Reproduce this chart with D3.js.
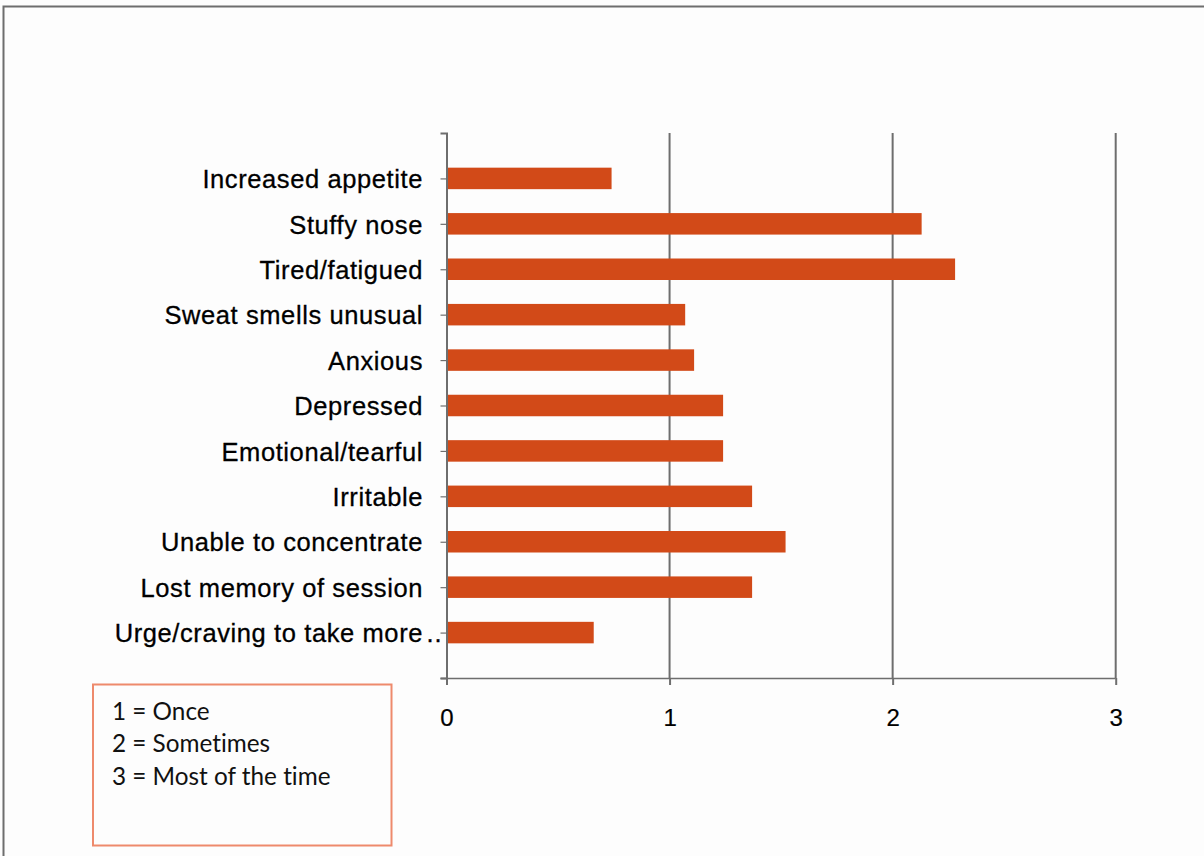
<!DOCTYPE html>
<html>
<head>
<meta charset="utf-8">
<script src="https://cdn.jsdelivr.net/npm/d3@7"></script>
<style>
  html, body { margin: 0; padding: 0; background: #fdfdfd; }
  svg { display: block; }
</style>
</head>
<body>
<svg id="chart" width="1204" height="856"></svg>
<script>
// Symptom categories, top to bottom
const symptoms = [
  "Increased appetite",
  "Stuffy nose",
  "Tired/fatigued",
  "Sweat smells unusual",
  "Anxious",
  "Depressed",
  "Emotional/tearful",
  "Irritable",
  "Unable to concentrate",
  "Lost memory of session",
  "Urge/craving to take more…"
];
// Mean frequency score per symptom
const scores = [0.74, 2.13, 2.28, 1.07, 1.11, 1.24, 1.24, 1.37, 1.52, 1.37, 0.66];
const xTicks = [0, 1, 2, 3];
const keyLines = ["1 = Once", "2 = Sometimes", "3 = Most of the time"];

const svg = d3.select("#chart");
const axisColor = "#6e6e6e";
const barColor = "#d24a18";
const labelFont = "'Liberation Sans', Arial, sans-serif";

// Outer frame (top and left edges visible)
svg.append("path")
  .attr("d", "M3.5,856V6.5H1204")
  .attr("fill", "none")
  .attr("stroke", axisColor)
  .attr("stroke-width", 2);

const plot = { left: 446.5, right: 1115.7, top: 133, bottom: 678 };

const x = d3.scaleLinear().domain([0, 3]).range([plot.left, plot.right]);
const y = d3.scalePoint().domain(symptoms).range([plot.top, plot.bottom]).padding(1);

// Vertical gridlines
svg.append("g")
  .selectAll("line")
  .data(xTicks.filter(d => d > 0))
  .join("line")
  .attr("x1", d => x(d)).attr("x2", d => x(d))
  .attr("y1", plot.top).attr("y2", plot.bottom)
  .attr("stroke", axisColor)
  .attr("stroke-width", 2);

// Bars
const barH = 21.5;
svg.append("g")
  .selectAll("rect")
  .data(symptoms)
  .join("rect")
  .attr("x", x(0) + 1)
  .attr("y", d => y(d) - barH / 2)
  .attr("width", (d, i) => x(scores[i]) - x(0) - 1)
  .attr("height", barH)
  .attr("fill", barColor);

// Category axis
const yAxis = svg.append("g")
  .attr("transform", `translate(${plot.left},0)`)
  .call(d3.axisLeft(y).tickSize(6).tickSizeOuter(6).tickPadding(17.5));
yAxis.select(".domain").attr("stroke", axisColor).attr("stroke-width", 2);
yAxis.selectAll(".tick line").attr("stroke", axisColor).attr("stroke-width", 1.2);
yAxis.selectAll(".tick text")
  .attr("font-family", labelFont)
  .attr("font-size", 25.5)
  .attr("letter-spacing", "0.6px")
  .attr("fill", "#000")
  .attr("stroke", "#000")
  .attr("stroke-width", 0.3)
  .attr("dy", "0.36em")
  .each(function (d) {
    // A trailing ellipsis hangs past the label edge
    if (d.endsWith("…")) {
      d3.select(this).text(d.slice(0, -1));
      d3.select(this.parentNode).append("text")
        .attr("x", -20)
        .attr("dy", "0.36em")
        .attr("text-anchor", "start")
        .attr("font-family", labelFont)
        .attr("font-size", 25.5)
        .attr("letter-spacing", "1px")
        .attr("fill", "#000")
        .attr("stroke", "#000")
        .attr("stroke-width", 0.3)
        .text("..");
    }
  });

// Value axis
const xAxis = svg.append("g")
  .attr("transform", `translate(0,${plot.bottom})`)
  .call(d3.axisBottom(x).tickValues(xTicks).tickFormat(d3.format("d")).tickSize(7).tickSizeOuter(0).tickPadding(24));
xAxis.select(".domain").attr("d", `M${plot.left - 6},0.5H${plot.right}`).attr("stroke", axisColor).attr("stroke-width", 1.5);
xAxis.selectAll(".tick line").attr("stroke", axisColor).attr("stroke-width", 2);
xAxis.selectAll(".tick text")
  .attr("font-family", labelFont)
  .attr("font-size", 24)
  .attr("fill", "#000")
  .attr("stroke", "#000")
  .attr("stroke-width", 0.2);

// Score key box
const key = svg.append("g");
key.append("rect")
  .attr("x", 93).attr("y", 684.5)
  .attr("width", 298.5).attr("height", 161)
  .attr("fill", "#fdfdfd")
  .attr("stroke", "#ee8a6c")
  .attr("stroke-width", 2);
key.selectAll("text")
  .data(keyLines)
  .join("text")
  .attr("x", 112)
  .attr("y", (d, i) => 719.5 + i * 32.5)
  .attr("font-family", "Lato, 'Open Sans', sans-serif")
  .attr("font-size", 24.3)
  .style("font-variant-ligatures", "none")
  .attr("fill", "#111")
  .text(d => d);
</script>
</body>
</html>
